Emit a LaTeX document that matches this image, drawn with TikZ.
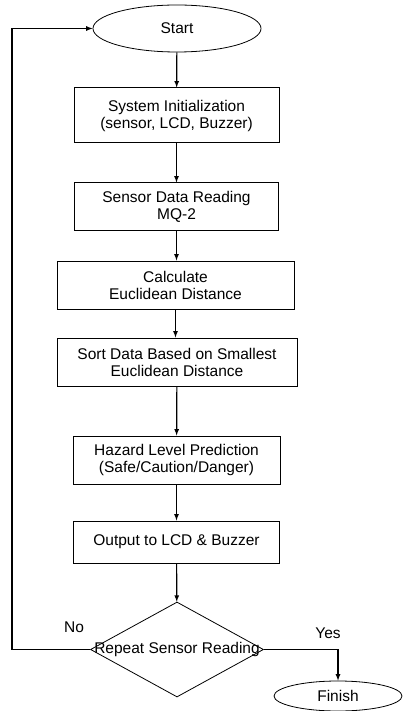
\documentclass[tikz,border=0pt]{standalone}
\usepackage{fontspec}
\setmainfont{Liberation Sans}
\usetikzlibrary{shapes.geometric}
\begin{document}
\begin{tikzpicture}[x=1pt,y=-1pt,
  font=\fontsize{15.5}{17}\selectfont,
  proc/.style={draw,line width=1pt,align=center,inner sep=0pt},
  term/.style={draw,ellipse,line width=0.8pt,inner sep=0pt},
  decision/.style={draw,diamond,line width=0.8pt,inner sep=0pt,minimum width=173pt,minimum height=95pt},
  flow/.style={-latex,line width=1.2pt}]
\useasboundingbox (0,0) rectangle (402,711);
%terminals
\node[term,minimum width=168pt,minimum height=47pt](start) at (177,28.5){Start};
\node[term,minimum width=128pt,minimum height=30pt](finish) at (338,696){Finish};
%steps
\node[proc,minimum width=205pt,minimum height=55pt](init) at (176.5,115.5){System Initialization\\(sensor, LCD, Buzzer)};
\node[proc,minimum width=204pt,minimum height=47pt](read) at (176.5,206.5){Sensor Data Reading\\MQ-2};
\node[proc,minimum width=237pt,minimum height=48pt](calc) at (175.5,285){Calculate\\Euclidean Distance};
\node[proc,minimum width=240pt,minimum height=48pt](sort) at (177,362){Sort Data Based on Smallest\\Euclidean Distance};
\node[proc,minimum width=207pt,minimum height=48pt](pred) at (176.5,460){Hazard Level Prediction\\(Safe/Caution/Danger)};
\node[proc,minimum width=206pt,minimum height=42pt](out) at (176.5,542){Output to LCD \& Buzzer};
\node[decision](rep) at (177,649.5){\makebox[0pt]{Repeat Sensor Reading}};
%
\draw[flow](start)--(init);
\draw[flow](init)--(read);
\draw[flow](read.south)--(read.south|-calc.north);
\draw[flow](calc.south)--(calc.south|-sort.north);
\draw[flow](sort)--(pred);
\draw[flow](pred)--(out);
\draw[flow](out)--(rep);
%========
\coordinate(loopCorner) at (12,649.5);
\draw[flow](rep.west)--(loopCorner)|-(start.west);
\draw[flow](rep.east)-|(finish.north);
\node(no) at (74,627){No};
\node(yes) at (328,633){Yes};
\end{tikzpicture}
\end{document}
